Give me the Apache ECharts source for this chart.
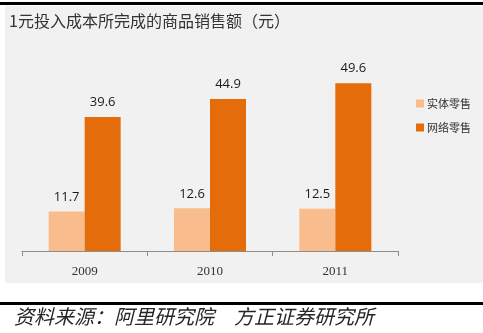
<!DOCTYPE html>
<html>
<head>
<meta charset="utf-8">
<style>
  html, body { margin: 0; padding: 0; background: #ffffff; }
  #chart { width: 483px; height: 333px; }
</style>
<script src="https://cdn.jsdelivr.net/npm/echarts@6/dist/echarts.min.js"></script>
</head>
<body>
<div id="chart"></div>
<script>
// Sales generated per 1 yuan of cost (yuan)
const years = ['2009', '2010', '2011'];
const physicalRetail = [11.7, 12.6, 12.5];
const onlineRetail = [39.6, 44.9, 49.6];
const seriesNames = ['实体零售', '网络零售'];
const titleText = '1元投入成本所完成的商品销售额（元）';
const sourceText = '资料来源：阿里研究院　方正证券研究所';

const chart = echarts.init(document.getElementById('chart'), null, { renderer: 'canvas' });

const labelStyle = {
  show: true,
  position: 'top',
  distance: 8,
  color: '#1a1a1a',
  fontSize: 13,
  fontFamily: 'Open Sans, Noto Sans, sans-serif'
};

chart.setOption({
  animation: false,
  backgroundColor: '#ffffff',
  graphic: [
    // panel background
    { type: 'rect', z: -10, silent: true, shape: { x: 5, y: 6, width: 478, height: 277 }, style: { fill: '#f1f1f1' } },
    // top rule
    { type: 'rect', silent: true, shape: { x: 0, y: 2, width: 483, height: 3 }, style: { fill: '#000000' } },
    // bottom rule
    { type: 'rect', silent: true, shape: { x: 0, y: 302, width: 483, height: 3 }, style: { fill: '#000000' } },
    {
      type: 'text', silent: true, left: 14, top: 306,
      style: {
        text: sourceText,
        fill: '#262626',
        font: 'italic 20px "Noto Sans CJK SC", sans-serif'
      }
    }
  ],
  title: {
    text: titleText,
    left: 4,
    top: 8,
    textStyle: {
      color: '#333333',
      fontSize: 16,
      fontWeight: 'normal',
      fontFamily: '"Noto Sans CJK SC", sans-serif'
    }
  },
  legend: {
    orient: 'vertical',
    left: 411,
    top: 93,
    itemWidth: 8,
    itemHeight: 8,
    itemGap: 13,
    icon: 'rect',
    textStyle: {
      color: '#333333',
      fontSize: 11,
      fontFamily: '"Noto Sans CJK SC", sans-serif',
      padding: [0, 0, 0, -2]
    },
    data: seriesNames
  },
  grid: {
    left: 22,
    right: 85,
    top: 48,
    bottom: 82
  },
  xAxis: {
    type: 'category',
    data: years,
    boundaryGap: true,
    axisLine: { lineStyle: { color: '#8c8c8c', width: 1 } },
    axisTick: { show: true, length: 5, lineStyle: { color: '#8c8c8c' } },
    axisLabel: {
      color: '#333333',
      fontSize: 13,
      margin: 14,
      fontFamily: '"Liberation Serif", "DejaVu Serif", serif'
    }
  },
  yAxis: {
    type: 'value',
    min: 0,
    max: 60,
    show: false,
    splitLine: { show: false }
  },
  series: [
    {
      name: seriesNames[0],
      type: 'bar',
      data: physicalRetail,
      barWidth: 36,
      barGap: '0%',
      itemStyle: { color: '#f9bc8c' },
      label: labelStyle
    },
    {
      name: seriesNames[1],
      type: 'bar',
      data: onlineRetail,
      barWidth: 36,
      barGap: '0%',
      itemStyle: { color: '#e46c0a' },
      label: labelStyle
    }
  ]
});
</script>
</body>
</html>
